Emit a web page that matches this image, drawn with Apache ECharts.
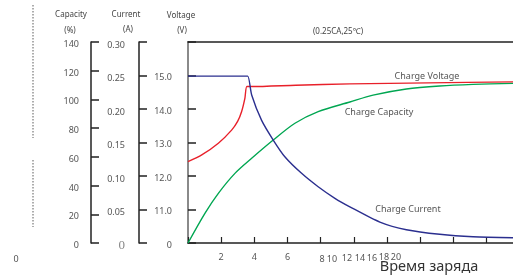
<!DOCTYPE html>
<html>
<head>
<meta charset="utf-8">
<script src="https://cdn.jsdelivr.net/npm/echarts@6/dist/echarts.min.js"></script>
<style>html,body{margin:0;padding:0;background:#fff}#c{width:513px;height:275px}</style>
</head>
<body>
<div id="c"></div>
<script>
// ---- data ----
var timeTickLabels = ['2', '4', '6', '8', '10', '12', '14', '16', '18', '20'];
var voltagePoints = [[0, 12.43], [0.83, 12.63], [1.83, 12.98], [2.63, 13.37], [3.0, 13.64], [3.23, 13.92], [3.43, 14.32], [3.55, 14.67], [3.84, 14.67], [6.5, 14.71], [9.76, 14.75], [14.5, 14.78], [19.6, 14.81]];
var currentPoints = [[0, 0.249], [3.35, 0.249], [3.6, 0.249], [3.84, 0.221], [4.44, 0.183], [5.14, 0.1537], [5.84, 0.1288], [6.85, 0.104], [7.85, 0.084], [8.86, 0.0667], [9.76, 0.054], [11.57, 0.0312], [13.17, 0.0198], [15.18, 0.013], [17.19, 0.0094], [19.6, 0.0079]];
var capacityPoints = [[0, 0], [1.02, 20.7], [1.83, 34.6], [2.83, 48.5], [3.84, 59.0], [5.14, 71.7], [6.45, 83.4], [7.85, 91.5], [9.76, 98.2], [11.16, 103.0], [13.17, 107.3], [15.18, 109.4], [17.19, 110.5], [19.6, 111.2]];
var seriesNames = ['Charge Voltage', 'Charge Current', 'Charge Capacity'];
var condition = '(0.25CA,25℃)';
var xTitle = 'Время заряда';

// ---- chart ----
var F = 'Noto Sans';
var lblColor = '#555';
var chart = echarts.init(document.getElementById('c'), null, {renderer: 'canvas'});

function yAxisBase(offset, min, max, interval, lineColor, lineW, margin, pad, fmt) {
  return {
    type: 'value', position: 'left', offset: offset, min: min, max: max, interval: interval,
    axisLine: {show: true, onZero: false, lineStyle: {color: lineColor, width: lineW}},
    axisTick: {show: true, inside: true, length: 8, lineStyle: {color: '#222', width: 1.5}},
    axisLabel: {margin: margin, color: lblColor, fontSize: 9, fontFamily: F, padding: pad, formatter: fmt,
      rich: {z: {fontFamily: 'Liberation Serif', fontSize: 13, color: '#888'}}},
    splitLine: {show: false}
  };
}

var xDrawn = ['8', '10', '12', '14', '16', '18', '20'];
var xDrawnPos = [[322, 259], [332, 259], [347, 258], [360, 258], [372, 258], [384, 257], [396, 257]];
var graphics = [
  {type: 'text', x: 71, y: 15, style: {text: 'Capacity', font: '8px "Noto Sans"', fill: '#444', textAlign: 'center', textVerticalAlign: 'middle'}},
  {type: 'text', x: 70, y: 31, style: {text: '(%)', font: '8px "Noto Sans"', fill: '#444', textAlign: 'center', textVerticalAlign: 'middle'}},
  {type: 'text', x: 126, y: 15, style: {text: 'Current', font: '8px "Noto Sans"', fill: '#444', textAlign: 'center', textVerticalAlign: 'middle'}},
  {type: 'text', x: 128, y: 30, style: {text: '(A)', font: '8px "Noto Sans"', fill: '#444', textAlign: 'center', textVerticalAlign: 'middle'}},
  {type: 'text', x: 181, y: 16, style: {text: 'Voltage', font: '8px "Noto Sans"', fill: '#444', textAlign: 'center', textVerticalAlign: 'middle'}},
  {type: 'text', x: 182, y: 31, style: {text: '(V)', font: '8px "Noto Sans"', fill: '#444', textAlign: 'center', textVerticalAlign: 'middle'}},
  {type: 'text', x: 338, y: 32, style: {text: condition, font: '8px "Noto Sans"', fill: '#444', textAlign: 'center', textVerticalAlign: 'middle'}},
  {type: 'text', x: 427, y: 76, style: {text: seriesNames[0], font: '9px "Noto Sans"', fill: '#555', textAlign: 'center', textVerticalAlign: 'middle'}},
  {type: 'text', x: 379, y: 112, style: {text: seriesNames[2], font: '9px "Noto Sans"', fill: '#555', textAlign: 'center', textVerticalAlign: 'middle'}},
  {type: 'text', x: 408, y: 209, style: {text: seriesNames[1], font: '9px "Noto Sans"', fill: '#555', textAlign: 'center', textVerticalAlign: 'middle'}},
  {type: 'text', x: 16, y: 259, style: {text: '0', font: '9px "Noto Sans"', fill: '#555', textAlign: 'center', textVerticalAlign: 'middle'}},
  {type: 'text', x: 429, y: 267, style: {text: xTitle, font: '14.5px "Noto Sans"', fill: '#333', textAlign: 'center', textVerticalAlign: 'middle'}},
  {type: 'line', shape: {x1: 33, y1: 5, x2: 33, y2: 138}, style: {stroke: '#777', lineWidth: 1.2, lineDash: [1.5, 1.5]}},
  {type: 'line', shape: {x1: 33, y1: 160, x2: 33, y2: 227}, style: {stroke: '#777', lineWidth: 1.2, lineDash: [1.5, 1.5]}}
];
xDrawn.forEach(function (t, i) {
  graphics.push({type: 'text', x: xDrawnPos[i][0], y: xDrawnPos[i][1], style: {text: t, font: '9px "Noto Sans"', fill: lblColor, textAlign: 'center', textVerticalAlign: 'middle'}});
});

var option = {
  animation: false,
  backgroundColor: '#fff',
  grid: {left: 188, right: 0, top: 42, bottom: 32, containLabel: false},
  xAxis: [
    {type: 'value', min: 0, max: 19.6, interval: 2, position: 'bottom',
      axisLine: {show: true, onZero: false, lineStyle: {color: '#222', width: 1.5}},
      axisTick: {show: true, inside: true, length: 6, lineStyle: {color: '#222', width: 1.2}},
      axisLabel: {margin: 10, color: lblColor, fontSize: 9, fontFamily: F, showMaxLabel: false,
        formatter: function (v) { var s = String(v); return (s === timeTickLabels[0] || s === timeTickLabels[1] || s === timeTickLabels[2]) ? s : ''; }},
      splitLine: {show: false}},
    {type: 'value', min: 0, max: 19.6, position: 'top',
      axisLine: {show: true, onZero: false, lineStyle: {color: '#222', width: 1.5}},
      axisTick: {show: false}, axisLabel: {show: false}, splitLine: {show: false}}
  ],
  yAxis: [
    yAxisBase(0, 10, 16, 1, '#8a8a8a', 2, 16, [4, 0, 0, 0], function (v) { if (v === 10) return '0'; if (v === 16) return ''; return v.toFixed(1); }),
    yAxisBase(49, 0, 0.3, 0.05, '#222', 1.5, 14, [6, 0, 0, 0], function (v) { if (v === 0) return '{z|0}'; return v.toFixed(2); }),
    yAxisBase(97, 0, 140, 20, '#222', 1.5, 12, [5, 0, 0, 0], function (v) { return String(v); })
  ],
  series: [
    {name: seriesNames[0], type: 'line', yAxisIndex: 0, data: voltagePoints, showSymbol: false, smooth: 0.25,
      lineStyle: {color: '#e8202a', width: 1.4}, z: 3},
    {name: seriesNames[1], type: 'line', yAxisIndex: 1, data: currentPoints, showSymbol: false, smooth: 0.25,
      lineStyle: {color: '#2b2f8f', width: 1.4}, z: 4},
    {name: seriesNames[2], type: 'line', yAxisIndex: 2, data: capacityPoints, showSymbol: false, smooth: 0.3,
      lineStyle: {color: '#00a651', width: 1.4}, z: 2}
  ],
  graphic: graphics
};
chart.setOption(option);
</script>
</body>
</html>
